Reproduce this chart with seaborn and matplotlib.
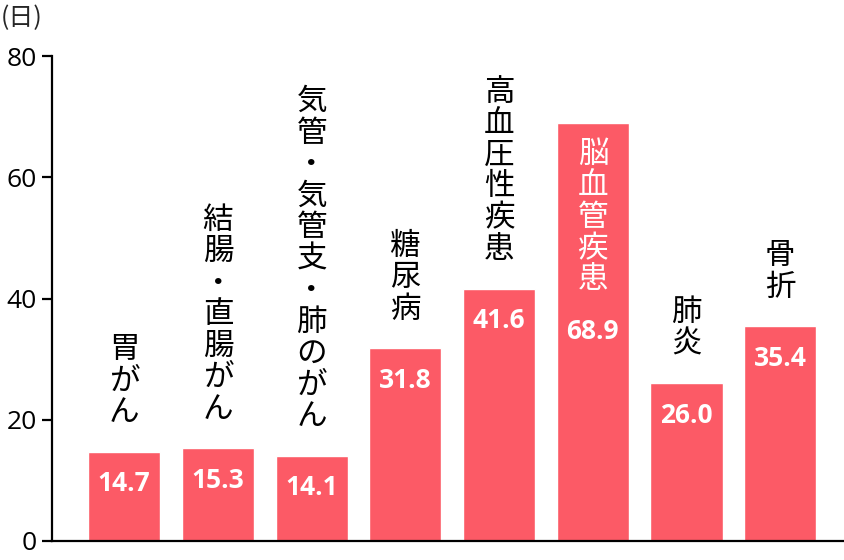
import pandas as pd
import matplotlib.pyplot as plt
import seaborn as sns

# 疾患別の平均在院日数
diseases = ['胃がん', '結腸・直腸がん', '気管・気管支・肺のがん', '糖尿病',
            '高血圧性疾患', '脳血管疾患', '肺炎', '骨折']
days = [14.7, 15.3, 14.1, 31.8, 41.6, 68.9, 26.0, 35.4]
y_ticks = [0, 20, 40, 60, 80]

df = pd.DataFrame({'疾患': diseases, '日数': days})

sns.set_theme(style="white")
plt.rcParams['font.family'] = ['Noto Sans CJK JP', 'DejaVu Sans']

bar_color = '#fc5a66'

fig = plt.figure(figsize=(8.44, 5.6), dpi=100)
ax = fig.add_axes([52 / 844, 19 / 560, 792 / 844, 485 / 560])

sns.barplot(x='疾患', y='日数', data=df, color=bar_color, width=0.77,
            saturation=1, ax=ax)

ax.set_ylim(0, 80)
ax.set_xlim(-0.77, len(diseases) - 1 + 0.68)
ax.set_yticks(y_ticks)
ax.set_yticklabels([str(t) for t in y_ticks], fontsize=19, family='Open Sans')
ax.set_xticks([])
ax.set_xlabel('')
ax.set_ylabel('')

for side in ['top', 'right']:
    ax.spines[side].set_visible(False)
for side in ['left', 'bottom']:
    ax.spines[side].set_color('black')
    ax.spines[side].set_linewidth(1.6)
ax.tick_params(axis='y', direction='out', length=7, width=1.6, color='black',
               labelcolor='black', pad=4, left=True)

# ラベル
for i, (name, val) in enumerate(zip(diseases, days)):
    vtext = '\n'.join(name)
    if name == '脳血管疾患':
        # 棒の中に白字で
        ax.annotate(vtext, xy=(i, val), xytext=(0, -11), textcoords='offset points',
                    ha='center', va='top', color='white', fontsize=22,
                    linespacing=1.02)
        val_offset = -150
    else:
        ax.annotate(vtext, xy=(i, val), xytext=(0, 17), textcoords='offset points',
                    ha='center', va='bottom', color='black', fontsize=22,
                    linespacing=1.02)
        val_offset = -23
    ax.annotate(f'{val:.1f}', xy=(i, val), xytext=(0, val_offset), textcoords='offset points',
                ha='center', va='center', color='white', fontsize=19,
                fontweight='bold', family='Open Sans')

fig.text(1 / 844, 1 - 18 / 560, '(日)', fontsize=18, va='center', ha='left')

plt.savefig('out.png', dpi=100)
